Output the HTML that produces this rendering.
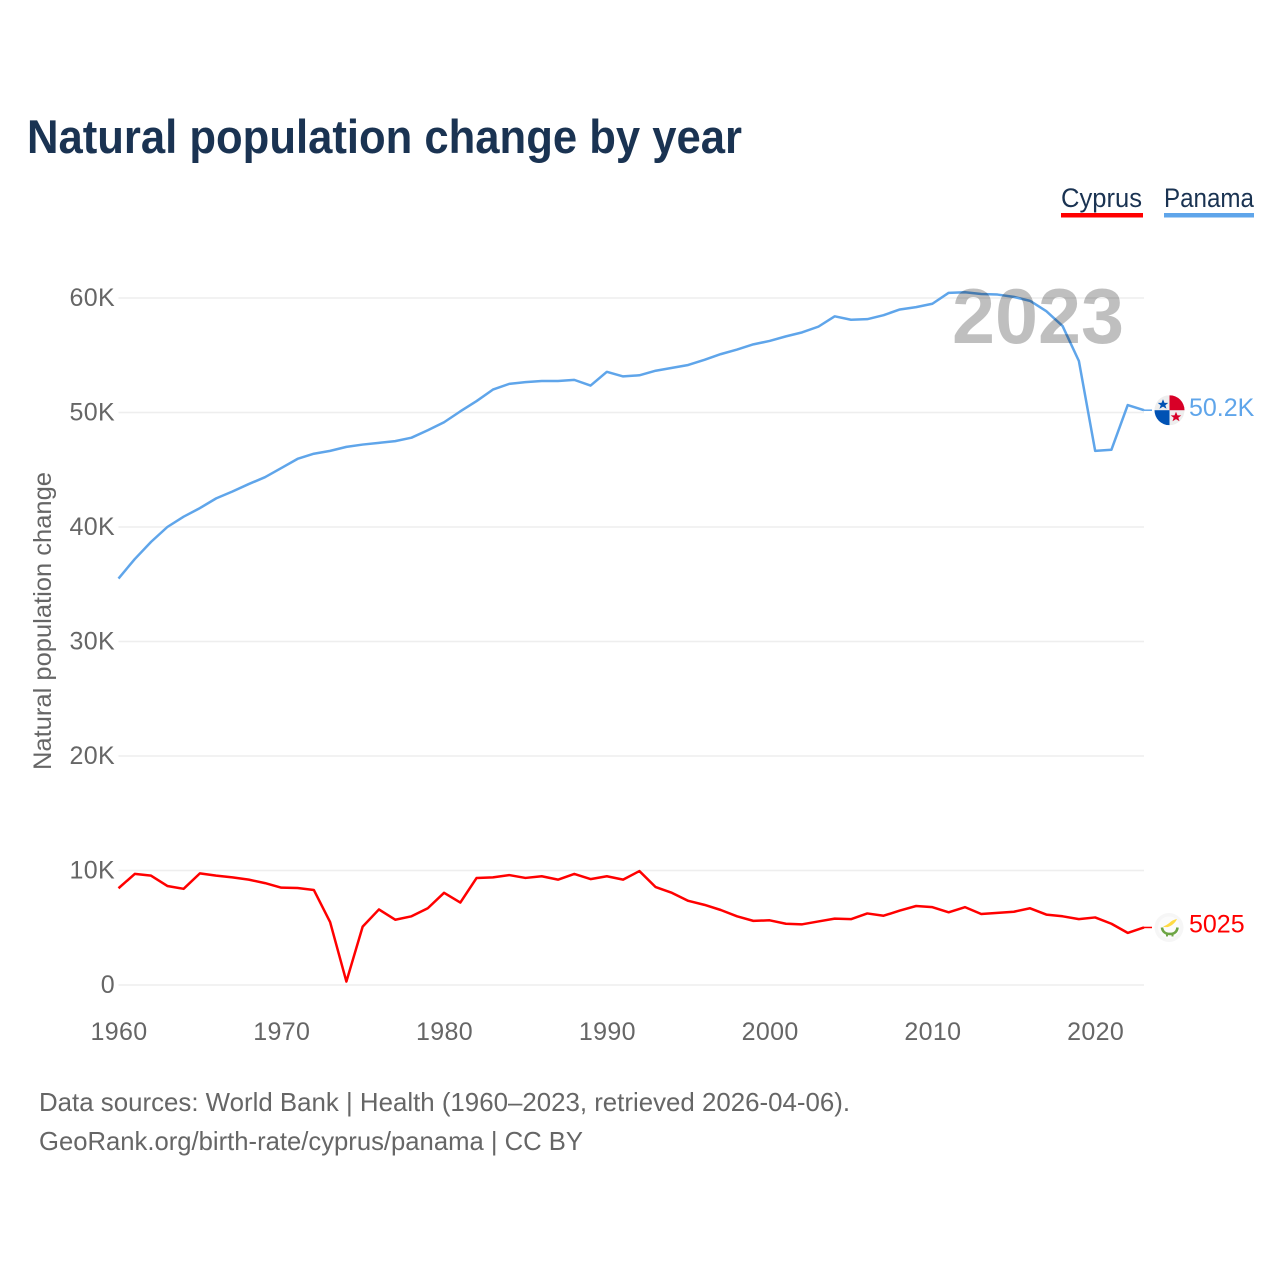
<!DOCTYPE html>
<html lang="en">
<head>
<meta charset="utf-8">
<title>Natural population change by year</title>
<style>
html,body{margin:0;padding:0;background:#fff;width:1280px;height:1280px;overflow:hidden}
svg{display:block;font-family:"Liberation Sans",sans-serif}
</style>
</head>
<body>
<svg id="chart" width="1280" height="1280" viewBox="0 0 1280 1280">
  <text x="27" y="153" font-size="47" font-weight="700" fill="#1a3352" textLength="715" lengthAdjust="spacingAndGlyphs">Natural population change by year</text>

  <g>
    <g>
      <text x="1061" y="207" font-size="26.5" fill="#1a3352" textLength="81" lengthAdjust="spacingAndGlyphs">Cyprus</text>
      <rect x="1061" y="213" width="82" height="4.5" fill="#ff0000"/>
    </g>
    <g>
      <text x="1164" y="207" font-size="26.5" fill="#1a3352" textLength="90" lengthAdjust="spacingAndGlyphs">Panama</text>
      <rect x="1164" y="213" width="90" height="4.5" fill="#5fa5ea"/>
    </g>
  </g>

  <g id="grid"></g>
  <g id="yticks"></g>
  <g id="xticks"></g>

  <text transform="translate(51,621) rotate(-90)" text-anchor="middle" font-size="25" fill="#666" textLength="298" lengthAdjust="spacingAndGlyphs">Natural population change</text>

  <g id="series"></g>

  <text x="952" y="343" font-size="78" font-weight="700" fill="#000" fill-opacity="0.25" textLength="172" lengthAdjust="spacingAndGlyphs">2023</text>

  <g id="flag-panama">
    <clipPath id="clip-pa"><circle cx="0" cy="0" r="15"/></clipPath>
    <g clip-path="url(#clip-pa)">
      <rect x="-15" y="-15" width="30" height="30" fill="#eeeeee"/>
      <rect x="0" y="-15" width="15" height="15" fill="#d80027"/>
      <rect x="-15" y="0" width="15" height="15" fill="#0052b4"/>
      <polygon points="-6.5,-11 -5,-7.3 -1.2,-7.3 -4.2,-5 -3,-1.5 -6.5,-3.6 -10,-1.5 -8.8,-5 -11.8,-7.3 -8,-7.3" fill="#0052b4"/>
      <polygon points="6.5,1.5 8,5.2 11.8,5.2 8.8,7.5 10,11 6.5,8.9 3,11 4.2,7.5 1.2,5.2 5,5.2" fill="#d80027"/>
    </g>
  </g>

  <g id="flag-cyprus">
    <circle cx="0" cy="0" r="14.5" fill="#f6f6f6"/>
    <circle cx="0" cy="0" r="11" fill="#fbfbfb"/>
    <path d="M-6,-1 C-3,-2 0,-4 2,-6 C4,-7.5 6,-8 8,-8.5 C7,-6 5,-4 3,-2.5 C0,-0.5 -3,0.5 -6,-1 Z" fill="#ffda44"/>
    <path d="M-7,0 C-6.5,5 -2.5,6.5 1,6.5 C4.5,6.5 8,5 8.5,0" fill="none" stroke="#6da544" stroke-width="2.6"/>
    <rect x="-3" y="6" width="2" height="3" fill="#6da544"/>
    <rect x="2.5" y="6" width="2" height="3" fill="#6da544"/>
  </g>

  <g id="end-labels"></g>

  <text x="39" y="1111" font-size="26" fill="#666" textLength="811" lengthAdjust="spacingAndGlyphs">Data sources: World Bank | Health (1960–2023, retrieved 2026-04-06).</text>
  <text x="39" y="1150" font-size="26" fill="#666" textLength="544" lengthAdjust="spacingAndGlyphs">GeoRank.org/birth-rate/cyprus/panama | CC BY</text>
</svg>

<script>
const firstYear = 1960;
const lastYear = 2023;
const xTickYears = [1960, 1970, 1980, 1990, 2000, 2010, 2020];
const yTickValues = [0, 10000, 20000, 30000, 40000, 50000, 60000];
const yTickLabels = ["0", "10K", "20K", "30K", "40K", "50K", "60K"];

const panamaValues = [
  35500, 37200, 38700, 40000, 40900, 41650, 42500, 43100, 43750, 44350,
  45150, 45950, 46400, 46650, 47000, 47200, 47350, 47500, 47800, 48450,
  49150, 50100, 51000, 52000, 52500, 52650, 52750, 52750, 52850, 52350,
  53550, 53150, 53250, 53650, 53900, 54150, 54600, 55100, 55500, 55950,
  56250, 56650, 57000, 57500, 58400, 58100, 58150, 58500, 59000, 59200,
  59500, 60450, 60500, 60350, 60300, 60100, 59750, 58850, 57550, 54500,
  46650, 46750, 50650, 50200
];
const cyprusValues = [
  8450, 9700, 9550, 8650, 8400, 9750, 9550, 9400, 9200, 8900,
  8500, 8470, 8300, 5500, 300, 5100, 6600, 5700, 6000, 6700,
  8050, 7200, 9350, 9400, 9600, 9350, 9500, 9200, 9700, 9250,
  9500, 9200, 9950, 8550, 8050, 7350, 7000, 6550, 6000, 5600,
  5650, 5350, 5300, 5550, 5800, 5750, 6250, 6050, 6500, 6900,
  6800, 6350, 6800, 6200, 6300, 6400, 6700, 6150, 6000, 5750,
  5900, 5350, 4550, 5025
];
const panamaEndLabel = "50.2K";
const cyprusEndLabel = "5025";

const NS = "http://www.w3.org/2000/svg";
const plotLeft = 118.5, plotRight = 1144, plotBase = 985, pxPerUnit = 687 / 60000;
function xScale(year) { return plotLeft + (year - firstYear) * (plotRight - plotLeft) / (lastYear - firstYear); }
function yScale(value) { return plotBase - value * pxPerUnit; }
function make(tag, parentId) {
  const el = document.createElementNS(NS, tag);
  document.getElementById(parentId).appendChild(el);
  return el;
}

yTickValues.forEach(function (v, i) {
  const line = make("line", "grid");
  
  
  line.setAttribute("x1", plotLeft);
  line.setAttribute("x2", plotRight);
  line.setAttribute("y1", yScale(v));
  line.setAttribute("y2", yScale(v));
  line.setAttribute("stroke", "#eeeeee");
  line.setAttribute("stroke-width", "1.5");

  const t = make("text", "yticks");
  
  
  t.setAttribute("x", 115);
  t.setAttribute("y", yScale(v) + 8);
  t.setAttribute("text-anchor", "end");
  t.setAttribute("font-size", "25");
  t.setAttribute("letter-spacing", "0.35");
  t.setAttribute("fill", "#666");
  t.textContent = yTickLabels[i];
});

xTickYears.forEach(function (year) {
  const t = make("text", "xticks");
  
  
  t.setAttribute("x", xScale(year) + 0.5);
  t.setAttribute("y", 1040);
  t.setAttribute("text-anchor", "middle");
  t.setAttribute("font-size", "25");
  t.setAttribute("letter-spacing", "0.35");
  t.setAttribute("fill", "#666");
  t.textContent = String(year);
});

function drawSeries(values, colour) {
  const line = make("polyline", "series");
  
  
  line.setAttribute("points", values.map(function (v, i) {
    return xScale(firstYear + i).toFixed(2) + "," + yScale(v).toFixed(2);
  }).join(" "));
  line.setAttribute("fill", "none");
  line.setAttribute("stroke", colour);
  line.setAttribute("stroke-width", "2.5");
  line.setAttribute("stroke-linejoin", "round");

  const last = values[values.length - 1];
  const stub = make("line", "series");
  
  
  stub.setAttribute("x1", plotRight);
  stub.setAttribute("x2", plotRight + 8);
  stub.setAttribute("y1", yScale(last));
  stub.setAttribute("y2", yScale(last));
  stub.setAttribute("stroke", colour);
  stub.setAttribute("stroke-width", "1.5");
}
drawSeries(panamaValues, "#5fa5ea");
drawSeries(cyprusValues, "#ff0000");

function drawEnd(values, label, colour, flagId, flagX, labelOffset) {
  const y = yScale(values[values.length - 1]);
  document.getElementById(flagId).setAttribute("transform", "translate(" + flagX + "," + y.toFixed(2) + ")");
  const t = make("text", "end-labels");
  
  
  t.setAttribute("x", 1189);
  t.setAttribute("y", y + labelOffset);
  t.setAttribute("font-size", "25");
  t.setAttribute("fill", colour);
  t.textContent = label;
}
drawEnd(panamaValues, panamaEndLabel, "#5fa5ea", "flag-panama", 1169.5, 6);
drawEnd(cyprusValues, cyprusEndLabel, "#ff0000", "flag-cyprus", 1169, 5);
</script>
</body>
</html>
